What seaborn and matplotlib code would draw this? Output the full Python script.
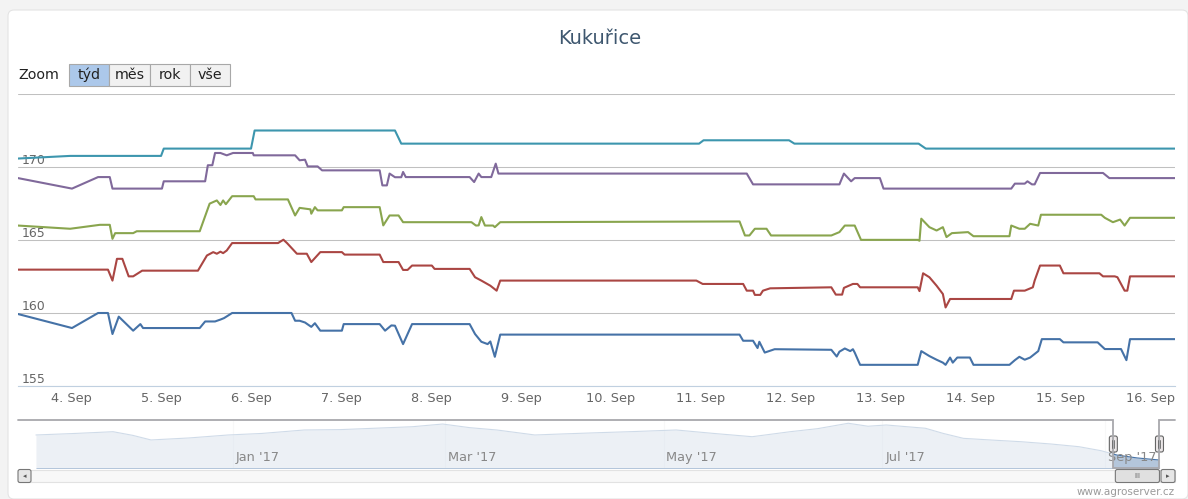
import matplotlib
matplotlib.use("Agg")
import numpy as np
import pandas as pd
import matplotlib.pyplot as plt
from matplotlib.patches import Rectangle, FancyBboxPatch
import seaborn as sns

# figure size in pixels (dpi 100)
W, H = 1188, 499

# --- data: day of September 2017 (fractional) and price ---
teal_x = [3.41, 3.99, 5.00, 5.03, 6.00, 6.04, 7.60, 7.67, 10.98, 11.03, 11.98, 12.04,
          13.42, 13.50, 16.27]
teal_y = [170.58, 170.76, 170.76, 171.26, 171.26, 172.50, 172.50, 171.60, 171.60, 171.83,
          171.83, 171.60, 171.60, 171.26, 171.26]

purple_x = [3.41, 4.01, 4.30, 4.43, 4.46, 5.01, 5.03, 5.49, 5.52, 5.57, 5.60, 5.66, 5.73,
            5.80, 6.02, 6.03, 6.49, 6.54, 6.60, 6.63, 6.74, 6.79, 7.43, 7.46, 7.51, 7.54,
            7.60, 7.67, 7.69, 7.72, 8.43, 8.48, 8.53, 8.56, 8.67, 8.72, 8.75, 11.51, 11.58,
            12.54, 12.59, 12.67, 12.71, 12.99, 13.03, 14.45, 14.49, 14.60, 14.63, 14.68,
            14.71, 14.77, 15.47, 15.54, 16.29]
purple_y = [169.24, 168.52, 169.31, 169.31, 168.52, 168.52, 169.02, 169.02, 170.12, 170.12,
            170.96, 170.96, 170.80, 170.96, 170.96, 170.80, 170.80, 170.46, 170.50, 170.04,
            170.04, 169.77, 169.77, 168.74, 168.74, 169.55, 169.30, 169.30, 169.66, 169.31,
            169.31, 168.97, 169.55, 169.31, 169.31, 170.23, 169.55, 169.55, 168.81, 168.81,
            169.55, 169.02, 169.24, 169.24, 168.52, 168.52, 168.86, 168.86, 169.02, 168.81,
            168.81, 169.59, 169.59, 169.24, 169.24]

green_x = [3.41, 3.99, 4.32, 4.43, 4.46, 4.49, 4.69, 4.73, 5.43, 5.54, 5.62, 5.66, 5.69,
           5.72, 5.79, 6.03, 6.05, 6.41, 6.49, 6.54, 6.66, 6.67, 6.71, 6.74, 7.01, 7.03,
           7.43, 7.47, 7.54, 7.64, 7.69, 8.45, 8.50, 8.53, 8.56, 8.60, 8.69, 8.71, 8.77,
           11.43, 11.49, 11.54, 11.60, 11.73, 11.78, 12.45, 12.54, 12.60, 12.71, 12.78,
           13.41, 13.43, 13.45, 13.54, 13.62, 13.69, 13.73, 13.79, 13.97, 14.03, 14.43,
           14.45, 14.54, 14.60, 14.66, 14.75, 14.78, 15.45, 15.49, 15.58, 15.66, 15.71,
           15.77, 16.28]
green_y = [165.99, 165.77, 166.04, 166.04, 165.08, 165.47, 165.47, 165.60, 165.60, 167.49,
           167.71, 167.40, 167.71, 167.45, 168.00, 168.00, 167.78, 167.78, 166.68, 167.20,
           167.10, 166.80, 167.25, 167.03, 167.03, 167.25, 167.25, 166.00, 166.68, 166.68,
           166.22, 166.22, 165.99, 166.00, 166.57, 165.99, 165.99, 165.88, 166.22, 166.27,
           165.31, 165.31, 165.77, 165.77, 165.31, 165.31, 165.54, 165.99, 165.99, 165.01,
           165.01, 164.95, 166.46, 165.88, 165.65, 165.88, 165.20, 165.47, 165.54, 165.26,
           165.26, 165.99, 165.77, 165.77, 166.11, 165.99, 166.73, 166.73, 166.52, 166.22,
           166.40, 165.99, 166.52, 166.52]

red_x = [3.41, 4.41, 4.46, 4.51, 4.57, 4.64, 4.69, 4.79, 5.41, 5.51, 5.58, 5.62, 5.66, 5.69,
         5.73, 5.79, 6.30, 6.36, 6.40, 6.51, 6.62, 6.67, 6.77, 7.01, 7.04, 7.43, 7.47, 7.64,
         7.69, 7.74, 7.79, 8.01, 8.04, 8.43, 8.49, 8.56, 8.66, 8.73, 8.77, 10.95, 11.02,
         11.47, 11.51, 11.58, 11.60, 11.66, 11.69, 11.77, 12.45, 12.50, 12.57, 12.59, 12.69,
         12.74, 12.77, 13.41, 13.43, 13.47, 13.54, 13.62, 13.69, 13.72, 13.77, 14.45, 14.48,
         14.60, 14.69, 14.71, 14.77, 14.99, 15.03, 15.43, 15.47, 15.60, 15.63, 15.71, 15.74,
         15.77, 16.28]
red_y = [162.97, 162.97, 162.22, 163.71, 163.71, 162.51, 162.51, 162.90, 162.90, 163.94,
         164.17, 164.06, 164.20, 164.10, 164.28, 164.79, 164.79, 165.02, 164.79, 164.06,
         164.06, 163.49, 164.17, 164.17, 164.00, 164.00, 163.49, 163.49, 162.95, 162.95,
         163.25, 163.25, 163.02, 163.02, 162.45, 162.22, 161.87, 161.53, 162.22, 162.22,
         161.99, 161.99, 161.53, 161.53, 161.24, 161.24, 161.53, 161.69, 161.76, 161.26,
         161.26, 161.72, 161.99, 161.99, 161.76, 161.76, 161.50, 162.72, 162.45, 161.87,
         161.30, 160.38, 160.96, 160.96, 161.53, 161.53, 161.76, 162.22, 163.25, 163.25,
         162.72, 162.72, 162.51, 162.51, 162.45, 161.53, 161.53, 162.51, 162.51]

blue_x = [3.41, 4.01, 4.30, 4.41, 4.46, 4.53, 4.69, 4.77, 4.80, 5.43, 5.49, 5.60, 5.66, 5.70,
          5.79, 6.45, 6.49, 6.54, 6.60, 6.67, 6.71, 6.77, 7.01, 7.03, 7.43, 7.49, 7.56, 7.60,
          7.69, 7.79, 8.43, 8.49, 8.56, 8.63, 8.66, 8.71, 8.77, 11.43, 11.47, 11.58, 11.63,
          11.65, 11.71, 11.82, 12.45, 12.51, 12.54, 12.60, 12.66, 12.69, 12.71, 12.77, 13.41,
          13.45, 13.54, 13.62, 13.69, 13.72, 13.77, 13.80, 13.85, 13.99, 14.03, 14.43, 14.49,
          14.54, 14.60, 14.66, 14.75, 14.79, 14.99, 15.03, 15.41, 15.49, 15.67, 15.73, 15.77,
          16.28]
blue_y = [159.93, 158.97, 160.00, 160.00, 158.56, 159.75, 158.79, 159.24, 158.97, 158.97,
          159.42, 159.42, 159.55, 159.65, 160.00, 160.00, 159.47, 159.47, 159.35, 159.05,
          159.30, 158.79, 158.79, 159.24, 159.24, 158.79, 159.15, 159.13, 157.87, 159.24,
          159.24, 158.56, 158.03, 157.87, 158.05, 157.00, 158.52, 158.52, 158.10, 158.10,
          157.60, 158.03, 157.29, 157.52, 157.48, 157.02, 157.35, 157.57, 157.39, 157.52,
          157.29, 156.45, 156.45, 157.39, 157.05, 156.80, 156.60, 156.45, 156.95, 156.60,
          156.95, 156.95, 156.45, 156.45, 156.77, 157.00, 156.80, 156.95, 157.39, 158.21,
          158.21, 157.99, 157.99, 157.53, 157.53, 156.77, 158.21, 158.21]

# navigator series: days from 1 Jan 2017
nav_x = [-55, -44, -33.5, -28, -22.9, -12.3, -1.4, 8, 19.8, 30, 41.3, 50, 58.4, 66, 73.5,
         84.1, 92, 102, 112, 123.5, 134, 144.7, 155.3, 163, 171.5, 177, 182.1, 193, 198,
         203.6, 212, 219.6, 228, 235.8, 242, 246.4, 252, 258.3]
nav_y = [179.4, 181.0, 182.8, 179.0, 174.2, 176.3, 179.4, 181.0, 184.6, 185.0, 186.7, 188.0,
         190.8, 187.0, 184.6, 179.4, 180.5, 181.8, 183.0, 184.6, 181.0, 177.6, 182.8, 186.0,
         191.6, 188.5, 189.8, 186.4, 181.0, 175.9, 174.0, 172.4, 170.0, 167.2, 163.0, 158.5,
         155.5, 153.3]
nav_ticks = [0, 59, 120, 181, 243]
nav_labels = ["Jan '17", "Mar '17", "May '17", "Jul '17", "Sep '17"]

x_days = list(range(4, 17))
x_labels = [f"{d}. Sep" for d in x_days]
y_ticks = [155, 160, 165, 170]

series = {
    "blue": (blue_x, blue_y, "#4572A7"),
    "red": (red_x, red_y, "#AA4643"),
    "green": (green_x, green_y, "#89A54E"),
    "purple": (purple_x, purple_y, "#80699B"),
    "teal": (teal_x, teal_y, "#3D96AE"),
}

frames = []
for name, (xs, ys, _) in series.items():
    frames.append(pd.DataFrame({"den": xs, "cena": ys, "rada": name}))
df = pd.concat(frames, ignore_index=True)
palette = {name: c for name, (_, _, c) in series.items()}

sns.set_theme(style="white")
plt.rcParams["font.family"] = ["DejaVu Sans"]

fig = plt.figure(figsize=(W / 100, H / 100), dpi=100)
fig.patch.set_facecolor("#F3F3F3")


def px_rect(left, top, right, bottom):
    return [left / W, 1 - bottom / H, (right - left) / W, (bottom - top) / H]


# background and overlay in pixel coordinates
bg = fig.add_axes([0, 0, 1, 1], zorder=-5)
bg.set_xlim(0, W)
bg.set_ylim(H, 0)
bg.axis("off")
bg.add_patch(FancyBboxPatch((8, 10), W - 8, H - 10, boxstyle="round,pad=0,rounding_size=6",
                            facecolor="white", edgecolor="#E4E4E4", lw=0.8))

# main chart
ax = fig.add_axes(px_rect(18, 94, 1175, 386), zorder=1)
ax.patch.set_alpha(0)
sns.lineplot(data=df, x="den", y="cena", hue="rada", palette=palette, estimator=None,
             sort=False, legend=False, linewidth=1.5, ax=ax)
for ln in ax.lines:
    ln.set_solid_joinstyle("round")
    ln.set_solid_capstyle("round")

ax.set_xlim(3.41, 16.27)
ax.set_ylim(155, 175)
ax.set_xlabel("")
ax.set_ylabel("")
for s in ["left", "right", "top"]:
    ax.spines[s].set_visible(False)
ax.spines["bottom"].set_color("#C0D0E0")
ax.spines["bottom"].set_linewidth(0.8)

ax.set_yticks([155, 160, 165, 170, 175])
ax.set_yticklabels([str(v) for v in y_ticks] + [""])
ax.yaxis.grid(True, color="#C0C0C0", linewidth=0.75)
ax.set_axisbelow(True)
ax.tick_params(axis="y", length=0, pad=-3, labelsize=9, labelcolor="#666666")
for lab in ax.get_yticklabels():
    lab.set_horizontalalignment("left")
    lab.set_verticalalignment("bottom")

ax.set_xticks(x_days)
ax.set_xticklabels(x_labels)
ax.tick_params(axis="x", length=4, width=0.8, color="#C0D0E0", pad=0.5, labelsize=9.3,
               labelcolor="#666666")

fig.text(600 / W, 1 - 38 / H, "Kukuřice", ha="center", va="center", fontsize=14,
         color="#3E576F")

# navigator
nav = fig.add_axes(px_rect(18, 420, 1175, 468), zorder=1)
nav.patch.set_alpha(0)
nav_left, nav_right = -60, 262.6
sel_lo = 243 + (ax.get_xlim()[0] - 1)
sel_hi = 243 + (ax.get_xlim()[1] - 1)
for t in nav_ticks:
    nav.axvline(t, color="#E6E6E6", lw=0.8, zorder=0)
nav.fill_between(nav_x, nav_y, 100, color="#4572A7", alpha=0.4, lw=0, zorder=1)
sns.lineplot(x=nav_x, y=nav_y, color="#4572A7", linewidth=0.8, ax=nav, zorder=2)
nav.axvspan(nav_left, sel_lo, color="white", alpha=0.75, lw=0, zorder=3)
nav.axvspan(sel_hi, nav_right, color="white", alpha=0.75, lw=0, zorder=3)
for t, lab in zip(nav_ticks, nav_labels):
    nav.text(t + 0.8, 0.21, lab, transform=nav.get_xaxis_transform(), ha="left",
             va="center", fontsize=9.3, color="#888888", zorder=4)
nav.set_xlim(nav_left, nav_right)
nav.set_ylim(145, 195)
nav.axis("off")

# overlay: buttons, outline, handles, scrollbar
ov = fig.add_axes([0, 0, 1, 1], zorder=5)
ov.set_xlim(0, W)
ov.set_ylim(H, 0)
ov.axis("off")
ov.patch.set_alpha(0)

ov.text(18, 75, "Zoom", ha="left", va="center", fontsize=10.3, color="#222222")
buttons = [("týd", 69, 109, True), ("měs", 109, 150, False), ("rok", 150, 190, False),
           ("vše", 190, 230, False)]
for label, x0, x1, sel in buttons:
    ov.add_patch(Rectangle((x0, 64), x1 - x0, 22, facecolor="#ACC8EA" if sel else "#F1F1F1",
                           edgecolor="#A8A8A8", lw=0.8))
    ov.text((x0 + x1) / 2, 75, label, ha="center", va="center", fontsize=10.3,
            color="#222222")


def nav_px(d):
    return 18 + (d - nav_left) / (nav_right - nav_left) * 1157


xl, xr = nav_px(sel_lo), nav_px(sel_hi)
ov.plot([18, xl, xl, xr, xr, 1175], [420, 420, 468, 468, 420, 420], color="#A8A8AD",
        lw=1.3, solid_joinstyle="miter")

# scrollbar
ov.add_patch(Rectangle((18, 470), 1157, 12, facecolor="#F8F8F8", edgecolor="#E2E2E2",
                       lw=0.8))
ov.add_patch(FancyBboxPatch((18, 469.5), 13, 13, boxstyle="round,pad=0,rounding_size=2",
                            facecolor="#E6E6E6", edgecolor="#777777", lw=0.8))
ov.text(24.5, 476, "◂", ha="center", va="center", fontsize=5, color="#555555")
ov.add_patch(FancyBboxPatch((xl + 2, 469.5), xr - xl - 2, 13,
                            boxstyle="round,pad=0,rounding_size=2",
                            facecolor="#E0E0E0", edgecolor="#777777", lw=0.8))
ov.text((xl + xr) / 2 + 1, 476, "III", ha="center", va="center", fontsize=5,
        color="#666666")
ov.add_patch(FancyBboxPatch((1161, 469.5), 14, 13, boxstyle="round,pad=0,rounding_size=2",
                            facecolor="#E6E6E6", edgecolor="#777777", lw=0.8))
ov.text(1168, 476, "▸", ha="center", va="center", fontsize=5, color="#555555")

# handles
for hx in (xl, xr):
    ov.add_patch(FancyBboxPatch((hx - 4, 436), 8, 16, boxstyle="round,pad=0,rounding_size=2",
                                facecolor="#EBE7E8", edgecolor="#666666", lw=0.8))
    ov.plot([hx - 1, hx - 1], [440, 448], color="#666666", lw=0.6)
    ov.plot([hx + 1, hx + 1], [440, 448], color="#666666", lw=0.6)

ov.text(1175, 492, "www.agroserver.cz", ha="right", va="center", fontsize=7.5,
        color="#9A9A9A")

fig.savefig("out.png", dpi=100)
